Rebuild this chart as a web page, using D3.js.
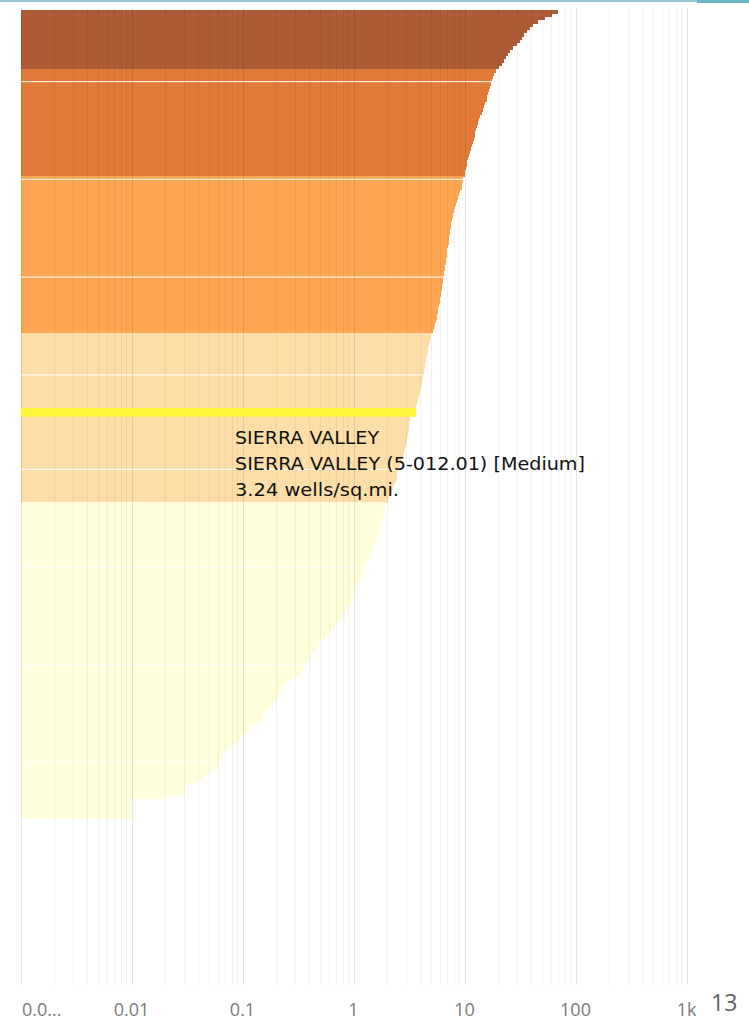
<!DOCTYPE html>
<html>
<head>
<meta charset="utf-8">
<script src="https://cdn.jsdelivr.net/npm/d3@7"></script>
<style>
  html, body { margin: 0; padding: 0; background: #fff; }
  svg { display: block; }
</style>
</head>
<body>
<svg id="chart" width="749" height="1021"></svg>
<script>
// ---- Data (wells per square mile, sorted descending, grouped by density class) ----
const densityOver20 = [69.1, 61.0, 52.8, 45.7, 41.2, 38.7, 36.4, 34.2, 32.8, 31.5, 29.6, 27.2, 25.6, 24.5, 23.5, 22.6, 21.7, 20.4];
const density10to20 = [19.13, 18.35, 17.98, 17.61, 17.25, 16.90, 16.55, 16.21, 16.05, 15.88, 15.40, 14.93, 14.62, 14.32, 13.88, 13.45, 13.18, 12.91, 12.65, 12.51, 12.38, 12.13, 11.88, 11.64, 11.40, 11.17, 10.94, 10.71, 10.60, 10.49, 10.39, 10.17, 10.05];
const density5to10 = [9.76, 9.66, 9.56, 9.46, 9.17, 8.99, 8.80, 8.53, 8.36, 8.19, 8.02, 7.93, 7.85, 7.69, 7.61, 7.53, 7.46, 7.38, 7.30, 7.28, 7.23, 7.08, 7.01, 6.93, 6.91, 6.86, 6.80, 6.72, 6.66, 6.59, 6.52, 6.45, 6.38, 6.32, 6.25, 6.19, 6.13, 6.06, 6.00, 5.88, 5.82, 5.76, 5.70, 5.64, 5.58, 5.41, 5.30, 5.19];
const density2to5 = [5.03, 4.98, 4.88, 4.83, 4.73, 4.68, 4.58, 4.54, 4.49, 4.44, 4.40, 4.35, 4.31, 4.22, 4.18, 4.13, 4.05, 4.01, 3.97, 3.88, 3.80, 3.73, 3.65, 3.50, 3.24, 3.22, 3.20, 3.18, 3.16, 3.14, 3.11, 3.09, 3.06, 3.03, 2.97, 2.94, 2.88, 2.82, 2.76, 2.70, 2.65, 2.59, 2.54, 2.49, 2.44, 2.39, 2.31, 2.27, 2.22, 2.15, 2.11, 2.06];
const densityUnder2 = [1.981, 1.940, 1.900, 1.873, 1.835, 1.804, 1.775, 1.746, 1.717, 1.686, 1.644, 1.607, 1.568, 1.535, 1.497, 1.455, 1.413, 1.367, 1.323, 1.280, 1.248, 1.223, 1.200, 1.168, 1.125, 1.089, 1.062, 1.040, 1.019, 0.998, 0.965, 0.924, 0.885, 0.847, 0.811, 0.769, 0.729, 0.693, 0.661, 0.630, 0.596, 0.558, 0.521, 0.491, 0.469, 0.447, 0.427, 0.410, 0.394, 0.378, 0.360, 0.344, 0.327, 0.298, 0.268, 0.247, 0.237, 0.227, 0.218, 0.209, 0.199, 0.189, 0.179, 0.168, 0.158, 0.153, 0.149, 0.138, 0.126, 0.115, 0.107, 0.100, 0.0943, 0.0886, 0.0824, 0.0767, 0.0713, 0.0670, 0.0636, 0.0617, 0.0598, 0.0574, 0.0512, 0.0491, 0.0443, 0.0399, 0.0325, 0.0305, 0.0305, 0.0305, 0.0201, 0.01, 0.01, 0.01, 0.01, 0.01, 0.01];

const classColors = ["#ad5b35", "#e17a38", "#fca552", "#fddea8", "#fefddc"];
const groups = [densityOver20, density10to20, density5to10, density2to5, densityUnder2];

const highlight = { group: 3, index: 24, lines: ["SIERRA VALLEY", "SIERRA VALLEY (5-012.01) [Medium]", "3.24 wells/sq.mi."] };

const tickValues = [0.001, 0.01, 0.1, 1, 10, 100, 1000];
const tickLabels = ["0.0...", "0.01", "0.1", "1", "10", "100", "1k"];
const pageNumber = "13";

// ---- Build ----
const rows = [];
groups.forEach((g, gi) => g.forEach((v, i) => rows.push({ v, gi, hl: gi === highlight.group && i === highlight.index })));

const svg = d3.select("#chart");
const x = d3.scaleLog().domain([0.001, 1000]).range([20.5, 686.5]);
const y = d3.scaleBand().domain(d3.range(rows.length)).range([10, 818]).paddingInner(0);

// top rule
svg.append("line").attr("x1", 0).attr("x2", 749).attr("y1", 1).attr("y2", 1)
  .attr("stroke", "#6fb3c6").attr("stroke-width", 1.5);
svg.append("line").attr("x1", 697).attr("x2", 749).attr("y1", 1.5).attr("y2", 1.5)
  .attr("stroke", "#6fb3c6").attr("stroke-width", 3);

// bars
svg.append("g").attr("shape-rendering", "crispEdges")
  .selectAll("rect").data(rows).join("rect")
  .attr("x", x(0.001) + 0.5)
  .attr("y", (d, i) => y(i))
  .attr("width", d => x(d.v) - x(0.001) - 0.5)
  .attr("height", y.bandwidth() + 0.6)
  .attr("fill", d => classColors[d.gi]);

// faint rendering seams between bar tiles (every ~30 bars)
const seams = d3.range(8).map(k => Math.round(22 + 29.85 * k));
svg.append("g").selectAll("line").data(seams).join("line")
  .attr("x1", x(0.001) + 0.5)
  .attr("x2", i => x(Math.max(rows[i - 1].v, rows[i].v)))
  .attr("y1", i => y(i))
  .attr("y2", i => y(i))
  .attr("stroke", "rgba(255,255,255,0.8)").attr("stroke-width", 1.2);

// gridlines (on top, translucent)
const gridTicks = x.ticks();
svg.append("g").selectAll("line").data(gridTicks).join("line")
  .attr("x1", d => Math.round(x(d)) + 0.5).attr("x2", d => Math.round(x(d)) + 0.5)
  .attr("y1", 8).attr("y2", 985)
  .attr("stroke", d => tickValues.includes(d) ? "rgba(0,0,0,0.10)" : "rgba(0,0,0,0.05)")
  .attr("stroke-width", 1);

// highlighted bar
const hi = rows.findIndex(r => r.hl);
const hd = rows[hi];
const hy = y(hi) + y.bandwidth() / 2;
svg.append("rect")
  .attr("x", x(0.001) + 3)
  .attr("y", y(hi))
  .attr("width", x(hd.v) - x(0.001))
  .attr("height", y.bandwidth())
  .attr("fill", "#fdf43c").attr("stroke", "#fdf43c").attr("stroke-width", 5.5)
  .attr("stroke-linejoin", "miter");

// tooltip text
const tipWidths = [144, 350, 164];
highlight.lines.forEach((t, i) => {
  svg.append("text")
    .attr("x", 235).attr("y", hy + 32 + i * 26)
    .attr("font-family", "DejaVu Sans").attr("font-size", 18)
    .attr("fill", "#111")
    .attr("textLength", tipWidths[i]).attr("lengthAdjust", "spacingAndGlyphs")
    .text(t);
});

// axis labels
svg.append("g").selectAll("text").data(tickValues).join("text")
  .attr("x", (d, i) => i === 0 ? 22 : x(d))
  .attr("y", 1016)
  .attr("text-anchor", (d, i) => i === 0 ? "start" : "middle")
  .attr("font-family", "Open Sans").attr("font-size", 18)
  .attr("fill", "#7a7a7a")
  .text((d, i) => tickLabels[i]);

// page number
svg.append("text").attr("x", 711).attr("y", 1011)
  .attr("font-family", "Open Sans").attr("font-size", 23).attr("fill", "#5f5f5f")
  .text(pageNumber);
</script>
</body>
</html>
